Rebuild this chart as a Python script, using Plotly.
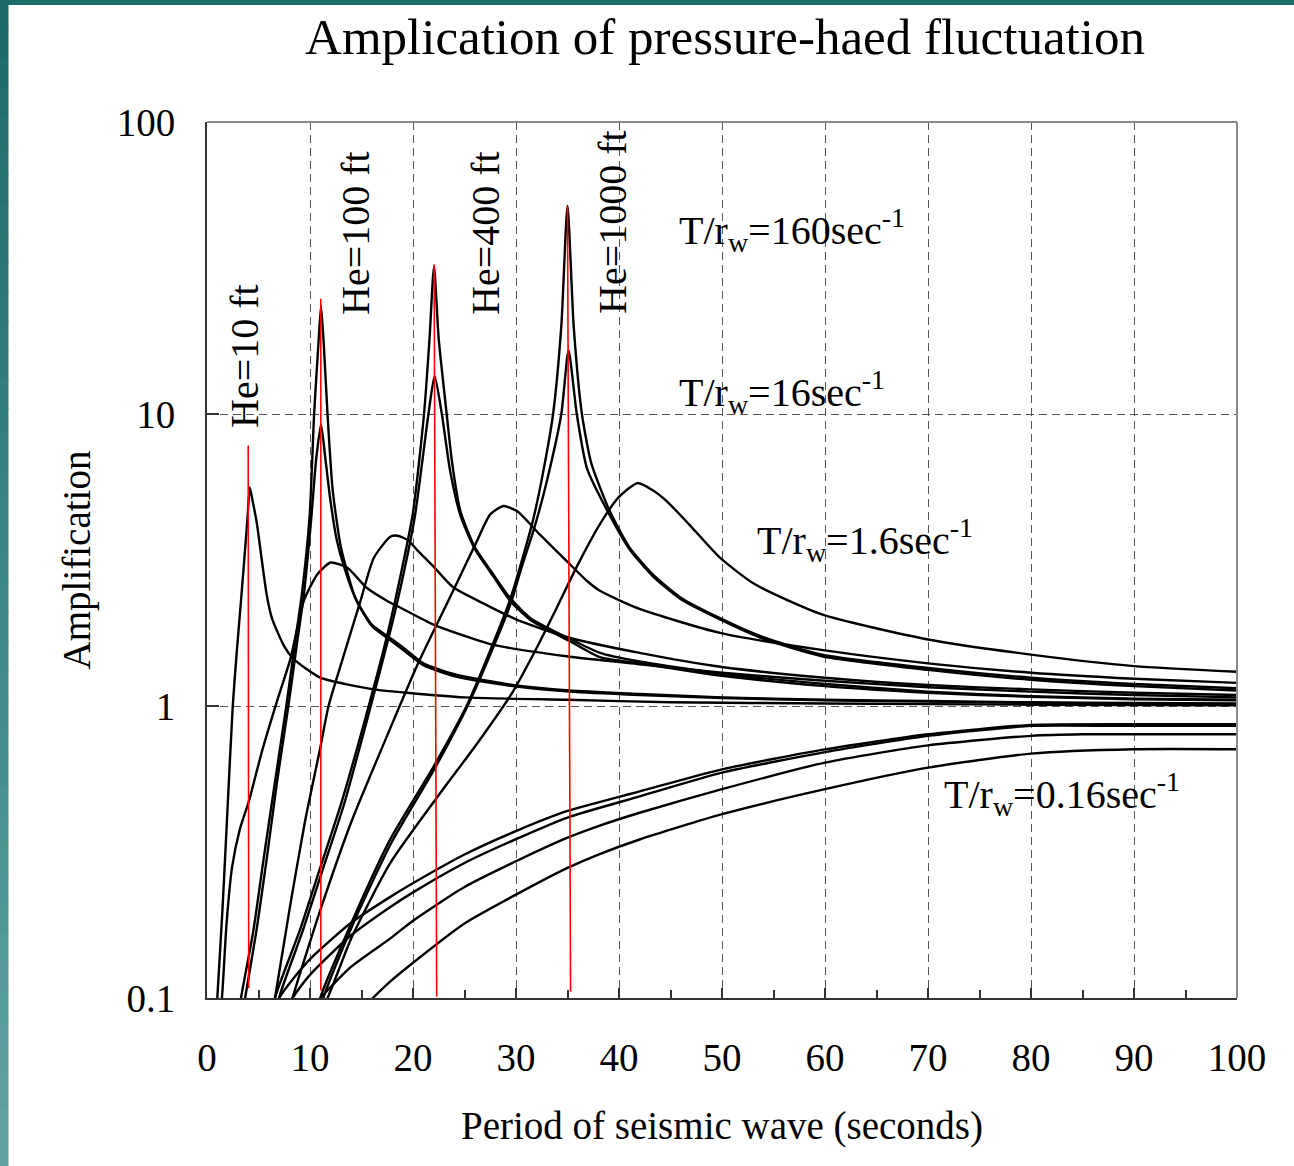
import plotly.graph_objects as go

# ---------------- data ----------------
# He = 10 ft
he10_a_x = [0.9, 1.0, 1.5, 2.0, 2.5, 2.9, 3.3, 3.7, 3.95, 4.15, 4.4, 4.85, 5.3, 5.8, 6.3, 7.5, 8.4, 11, 16.2, 19.4, 25, 35, 45, 60, 80, 100]
he10_a_y = [0.085, 0.1, 0.2, 0.45, 1.0, 1.55, 2.29, 3.45, 4.5, 5.6, 5.1, 4.2, 3.2, 2.4, 2.0, 1.6, 1.45, 1.25, 1.14, 1.11, 1.07, 1.05, 1.03, 1.02, 1.01, 1.005]

he10_c_x = [1.2, 1.45, 1.9, 2.43, 3.2, 4.05, 5.34, 6.8, 8.1, 9.4, 10.7, 12.0, 13.6, 15.5, 17.5, 18.8, 22, 27.5, 34.9, 42, 50, 60, 70, 80, 90, 100]
he10_c_y = [0.085, 0.1, 0.18, 0.28, 0.38, 0.47, 0.70, 1.04, 1.45, 2.29, 2.82, 3.1, 2.98, 2.54, 2.29, 2.17, 1.9, 1.63, 1.48, 1.39, 1.3, 1.22, 1.16, 1.12, 1.09, 1.07]

# He = 100 ft
he100_a_x = [3.0, 3.3, 4.5, 5.5, 6.6, 7.7, 8.6, 9.2, 9.97, 10.4, 10.8, 11.07, 11.35, 11.7, 12.2, 13.0, 14.4, 16.0, 18.1, 19.4, 21, 24.2, 29.7, 35.2, 42, 50, 60, 70, 80, 90, 100]
he100_a_y = [0.085, 0.1, 0.17, 0.3, 0.55, 1.0, 1.7, 2.4, 4.5, 10, 17, 23.5, 17, 10, 5.5, 3.5, 2.35, 1.9, 1.68, 1.55, 1.4, 1.28, 1.18, 1.13, 1.10, 1.07, 1.05, 1.04, 1.03, 1.025, 1.02]

he100_b_x = [3.4, 3.7, 4.8, 5.8, 6.8, 7.9, 8.8, 9.4, 10.1, 10.6, 11.07, 11.5, 12.0, 12.6, 13.3, 14.5, 16, 18.1, 19.4, 21, 24.2, 29.7, 35.2, 42, 50, 60, 70, 80, 90, 100]
he100_b_y = [0.085, 0.1, 0.17, 0.3, 0.55, 1.0, 1.7, 2.4, 4.3, 7.0, 9.2, 7.0, 5.0, 3.7, 3.0, 2.3, 1.88, 1.65, 1.52, 1.38, 1.26, 1.17, 1.12, 1.09, 1.065, 1.045, 1.035, 1.025, 1.02, 1.015]

he100_c_x = [6.2, 6.6, 8, 9.5, 11, 11.8, 13.3, 14.9, 16.2, 17.8, 18.5, 19.5, 20.4, 22, 23.9, 26.9, 30, 35, 42, 50, 60, 70, 80, 90, 100]
he100_c_y = [0.085, 0.1, 0.2, 0.4, 0.72, 1.0, 1.5, 2.29, 3.22, 3.8, 3.83, 3.7, 3.42, 3.0, 2.55, 2.24, 1.98, 1.72, 1.52, 1.36, 1.25, 1.18, 1.14, 1.11, 1.09]

# He = 400 ft
he400_a_x = [6.4, 6.6, 9, 11, 13, 15.7, 17.5, 18.7, 20.0, 21.07, 21.6, 22.04, 22.5, 23.27, 23.8, 24.6, 26, 27.8, 29.4, 31.4, 35.2, 38.15, 42, 50, 60, 70, 80, 90, 100]
he400_a_y = [0.085, 0.1, 0.17, 0.28, 0.46, 1.0, 1.75, 2.7, 4.6, 10, 18, 32, 18, 10, 6.8, 4.65, 3.5, 2.82, 2.35, 2.0, 1.7, 1.52, 1.42, 1.29, 1.19, 1.12, 1.08, 1.06, 1.05]

he400_b_x = [6.8, 7.0, 9.3, 11.3, 13.3, 15.9, 17.7, 18.9, 20.2, 21.5, 22.1, 22.8, 23.6, 24.6, 26, 27.8, 29.4, 31.4, 35.2, 38.15, 42, 50, 60, 70, 80, 90, 100]
he400_b_y = [0.085, 0.1, 0.17, 0.28, 0.46, 1.0, 1.75, 2.65, 4.5, 10, 13.5, 10, 6.4, 4.5, 3.45, 2.78, 2.3, 1.97, 1.67, 1.47, 1.40, 1.27, 1.17, 1.11, 1.075, 1.055, 1.045]

he400_c_x = [7.8, 8.3, 11, 14, 17.8, 20.5, 23.9, 26.2, 27.5, 28.8, 30.1, 32.3, 34.9, 36.9, 38.15, 42, 49.8, 60, 70, 80, 90, 100]
he400_c_y = [0.085, 0.1, 0.2, 0.4, 0.84, 1.4, 2.48, 3.67, 4.53, 4.84, 4.65, 3.87, 3.14, 2.68, 2.48, 2.15, 1.78, 1.55, 1.4, 1.3, 1.24, 1.20]

# He = 1000 ft
he1000_a_x = [10.7, 11, 14, 17.8, 22, 25.2, 27.5, 29.4, 30.4, 31.7, 32.7, 33.6, 34.4, 35.0, 35.6, 36.4, 37.3, 39.1, 41, 43.3, 46, 49.8, 54, 59.7, 70, 80, 90, 100]
he1000_a_y = [0.085, 0.1, 0.18, 0.35, 0.62, 1.0, 1.55, 2.3, 3.0, 4.4, 6.5, 10, 20, 51.6, 20, 10, 6.8, 4.65, 3.5, 2.82, 2.35, 2.0, 1.72, 1.5, 1.35, 1.25, 1.19, 1.15]

he1000_b_x = [11.0, 11.3, 14.2, 17.9, 22.1, 25.3, 27.6, 29.5, 30.5, 31.8, 33.0, 34.4, 35.1, 35.9, 36.9, 39.1, 41, 43.3, 46, 49.8, 54, 59.7, 70, 80, 90, 100]
he1000_b_y = [0.085, 0.1, 0.18, 0.34, 0.61, 1.0, 1.53, 2.25, 2.95, 4.1, 5.9, 10, 16.5, 10, 6.5, 4.5, 3.45, 2.78, 2.32, 1.98, 1.7, 1.48, 1.33, 1.23, 1.17, 1.13]

he1000_c_x = [10.5, 11.7, 14, 17.8, 22.4, 26.3, 29.7, 32, 33.9, 36, 38.15, 40, 41.8, 43.2, 44.6, 46.8, 49.8, 53.2, 59.7, 70, 80, 90, 100]
he1000_c_y = [0.085, 0.1, 0.16, 0.29, 0.49, 0.75, 1.12, 1.58, 2.15, 3.05, 4.2, 5.2, 5.8, 5.5, 5.04, 4.19, 3.22, 2.61, 2.06, 1.69, 1.50, 1.37, 1.31]

# T/rw = 0.16 family (monotone curves)
low_a_x = [6.7, 7.0, 8.5, 10.1, 13.9, 17.8, 20.4, 25, 30, 35, 42, 50, 60, 70, 80, 90, 100]
low_a_y = [0.095, 0.1, 0.118, 0.137, 0.18, 0.222, 0.252, 0.31, 0.373, 0.437, 0.51, 0.607, 0.71, 0.80, 0.861, 0.866, 0.866]

low_b_x = [8.0, 8.3, 10, 13.9, 17.8, 20, 25, 30, 35, 42, 50, 60, 70, 80, 90, 100]
low_b_y = [0.096, 0.1, 0.12, 0.163, 0.205, 0.23, 0.29, 0.35, 0.415, 0.49, 0.591, 0.695, 0.79, 0.855, 0.855, 0.855]

low_c_x = [10.6, 11.0, 14, 17.8, 20, 25, 30, 35, 38, 42, 50, 60, 70, 80, 85, 90, 100]
low_c_y = [0.096, 0.1, 0.128, 0.16, 0.184, 0.24, 0.294, 0.354, 0.388, 0.431, 0.519, 0.64, 0.733, 0.79, 0.80, 0.80, 0.80]

low_d_x = [15.6, 16.1, 17.8, 19.4, 25, 30, 35, 38, 42, 50, 60, 70, 80, 90, 100]
low_d_y = [0.096, 0.1, 0.114, 0.127, 0.18, 0.226, 0.279, 0.31, 0.349, 0.426, 0.519, 0.615, 0.687, 0.711, 0.711]

# red resonance markers (period, amplitude at the two ends)
red_x_top = [4.0, 11.05, 22.05, 35.0]
red_x_bot = [4.05, 11.05, 22.3, 35.3]
red_y_top = [7.8, 24.8, 32.5, 51.5]
red_y_bot = [0.108, 0.106, 0.101, 0.105]

x_ticks = [0, 10, 20, 30, 40, 50, 60, 70, 80, 90, 100]
y_ticks = [0.1, 1, 10, 100]
y_tick_text = ["0.1", "1", "10", "100"]

he_labels = ["He=10 ft", "He=100 ft", "He=400 ft", "He=1000 ft"]
trw_labels = ["T/r<sub>w</sub>=160sec<sup>-1</sup>", "T/r<sub>w</sub>=16sec<sup>-1</sup>",
              "T/r<sub>w</sub>=1.6sec<sup>-1</sup>", "T/r<sub>w</sub>=0.16sec<sup>-1</sup>"]

# ---------------- figure ----------------
FONT = "Liberation Serif"
W, H = 1294, 1166
L, R, T, B = 207, 57, 122, 168
PW, PH = W - L - R, H - T - B


def px(xp):
    return (xp - L) / PW


def py(yp):
    return (T + PH - yp) / PH


curves = [
    ("He=10 ft, T/rw=160", he10_a_x, he10_a_y),
    ("He=10 ft, T/rw=1.6", he10_c_x, he10_c_y),
    ("He=100 ft, T/rw=160", he100_a_x, he100_a_y),
    ("He=100 ft, T/rw=16", he100_b_x, he100_b_y),
    ("He=100 ft, T/rw=1.6", he100_c_x, he100_c_y),
    ("He=400 ft, T/rw=160", he400_a_x, he400_a_y),
    ("He=400 ft, T/rw=16", he400_b_x, he400_b_y),
    ("He=400 ft, T/rw=1.6", he400_c_x, he400_c_y),
    ("He=1000 ft, T/rw=160", he1000_a_x, he1000_a_y),
    ("He=1000 ft, T/rw=16", he1000_b_x, he1000_b_y),
    ("He=1000 ft, T/rw=1.6", he1000_c_x, he1000_c_y),
    ("T/rw=0.16 (a)", low_a_x, low_a_y),
    ("T/rw=0.16 (b)", low_b_x, low_b_y),
    ("T/rw=0.16 (c)", low_c_x, low_c_y),
    ("T/rw=0.16 (d)", low_d_x, low_d_y),
]

fig = go.Figure()
for name, xs, ys in curves:
    fig.add_trace(go.Scatter(x=xs, y=ys, mode="lines", name=name,
                             line=dict(color="black", width=2.4, shape="spline", smoothing=0.6),
                             showlegend=False, hoverinfo="skip"))

for i in range(len(red_x_top)):
    fig.add_trace(go.Scatter(x=[red_x_top[i], red_x_bot[i]], y=[red_y_top[i], red_y_bot[i]],
                             mode="lines", line=dict(color="#ff0000", width=1.6),
                             showlegend=False, hoverinfo="skip"))

axis_font = dict(family=FONT, size=39, color="black")

fig.update_xaxes(range=[0, 100], tickvals=x_ticks, ticks="inside", ticklen=10, tickwidth=1.5,
                 tickcolor="#333", showline=True, linecolor="#333", linewidth=2, mirror=False,
                 showgrid=True, gridcolor="#555", gridwidth=1, griddash="8px,5px", zeroline=False,
                 tickfont=axis_font, ticklabelstandoff=24,
                 minor=dict(ticks="inside", dtick=5, ticklen=8, tickcolor="#333", showgrid=False),
                 title=dict(text="Period of seismic wave (seconds)", font=axis_font, standoff=34),
                 automargin=False)
fig.update_yaxes(type="log", range=[-1, 2], tickvals=y_ticks, ticktext=y_tick_text, ticks="inside",
                 ticklen=12, tickwidth=1.5, tickcolor="#333", showline=True, linecolor="#333",
                 linewidth=2, mirror=False, showgrid=True, gridcolor="#555", gridwidth=1,
                 griddash="8px,5px", zeroline=False, tickfont=axis_font, ticklabelstandoff=22,
                 title=dict(text="Amplification", font=axis_font, standoff=14), automargin=False)

shapes = []
# top / right border of the plot area
shapes.append(dict(type="line", xref="paper", yref="paper", x0=0, x1=1, y0=1, y1=1,
                   line=dict(color="#8a8a8a", width=2), layer="above"))
shapes.append(dict(type="line", xref="paper", yref="paper", x0=1, x1=1, y0=0, y1=1,
                   line=dict(color="#8a8a8a", width=2), layer="above"))
# teal slide frame (left strip with vertical gradient, top strip)
n = 40
c0 = (27, 107, 107)
c1 = (95, 163, 160)
for i in range(n):
    t = i / (n - 1)
    col = "rgb(%d,%d,%d)" % tuple(round(c0[k] + (c1[k] - c0[k]) * t) for k in range(3))
    y0p = H * i / n
    y1p = H * (i + 1) / n + 1
    shapes.append(dict(type="rect", xref="paper", yref="paper", x0=px(0), x1=px(8.5),
                       y0=py(y1p), y1=py(y0p), line=dict(width=0), fillcolor=col, layer="above"))
shapes.append(dict(type="rect", xref="paper", yref="paper", x0=px(0), x1=px(W), y0=py(5), y1=py(0),
                   line=dict(width=0), fillcolor="rgb(27,107,107)", layer="above"))

annotations = []
he_pos = [(244, 356), (356, 233), (486, 233), (612, 222)]
for txt, (xp, yp) in zip(he_labels, he_pos):
    annotations.append(dict(text=txt, xref="paper", yref="paper", x=px(xp), y=py(yp),
                            xanchor="center", yanchor="middle", textangle=-90, showarrow=False,
                            font=dict(family=FONT, size=40, color="black")))
trw_pos = [(677, 230), (677, 392), (755, 540), (942, 794)]
for txt, (xp, yp) in zip(trw_labels, trw_pos):
    annotations.append(dict(text=txt, xref="paper", yref="paper", x=px(xp), y=py(yp),
                            xanchor="left", yanchor="middle", showarrow=False,
                            font=dict(family=FONT, size=40, color="black")))

fig.update_layout(
    width=W, height=H, margin=dict(l=L, r=R, t=T, b=B),
    paper_bgcolor="white", plot_bgcolor="white",
    font=dict(family=FONT, size=39, color="black"),
    title=dict(text="Amplication of pressure-haed fluctuation", x=725 / W, xref="container",
               xanchor="center", y=1 - 36 / H, yref="container", yanchor="middle",
               font=dict(family=FONT, size=51, color="black")),
    shapes=shapes, annotations=annotations, showlegend=False,
)

fig.write_html("out.html")
